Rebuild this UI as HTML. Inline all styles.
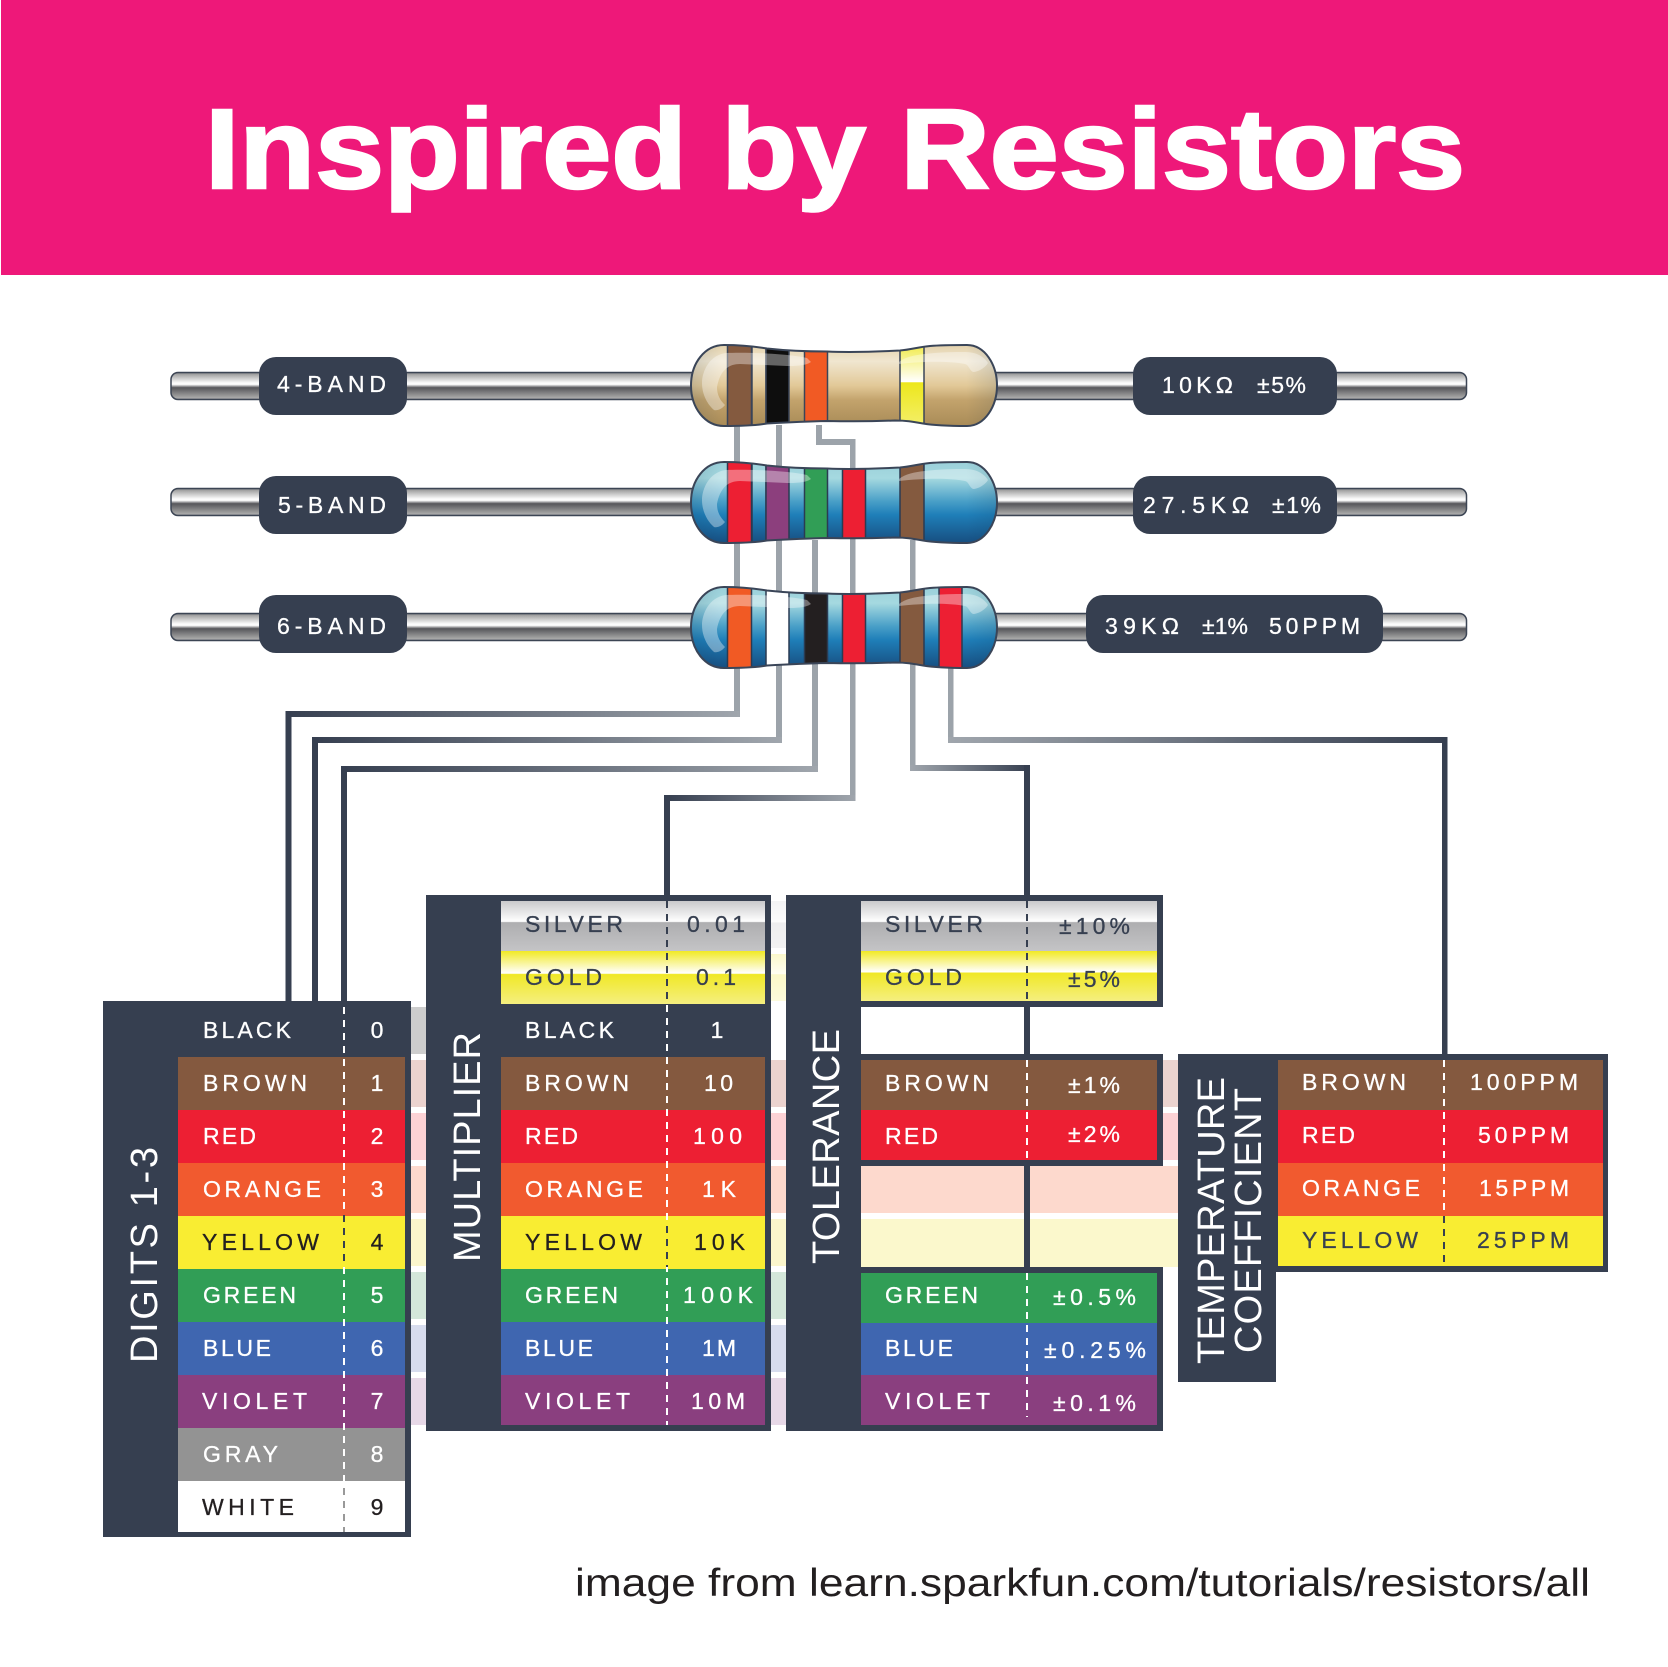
<!DOCTYPE html>
<html><head><meta charset="utf-8"><title>Inspired by Resistors</title>
<style>
html,body{margin:0;padding:0;background:#fff}
svg{display:block}
text{font-family:"Liberation Sans",sans-serif;font-size:23px;fill:#fff;stroke:#fff;stroke-width:.3px}
.k{fill:#231f20;stroke:#231f20}.d{fill:#363f50;stroke:#363f50}
.b{font-size:38px;stroke-width:0}
.m{text-anchor:middle}
</style></head><body>
<svg xmlns="http://www.w3.org/2000/svg" width="1668" height="1667" viewBox="0 0 1668 1667">
<defs>
<linearGradient id="lead" x1="0" y1="0" x2="0" y2="1"><stop offset="0" stop-color="#7d7f84"/><stop offset=".08" stop-color="#a6a6a6"/><stop offset=".38" stop-color="#fafafa"/><stop offset=".44" stop-color="#fff"/><stop offset=".56" stop-color="#56565a"/><stop offset=".95" stop-color="#ababab"/><stop offset="1" stop-color="#6d7078"/></linearGradient>
<linearGradient id="tan" x1="0" y1="0" x2="0" y2="1"><stop offset="0" stop-color="#e4d2ac"/><stop offset=".2" stop-color="#f0e6d0"/><stop offset=".5" stop-color="#e2c998"/><stop offset=".68" stop-color="#c3a36c"/><stop offset="1" stop-color="#a98b57"/></linearGradient>
<linearGradient id="blu" x1="0" y1="0" x2="0" y2="1"><stop offset="0" stop-color="#9bd0da"/><stop offset=".2" stop-color="#a5d9e0"/><stop offset=".48" stop-color="#4aa0c8"/><stop offset=".65" stop-color="#1f7fb9"/><stop offset="1" stop-color="#174e80"/></linearGradient>
<linearGradient id="side" x1="0" y1="0" x2="1" y2="0"><stop offset="0" stop-color="#0b2a4a" stop-opacity=".15"/><stop offset=".1" stop-color="#0b2a4a" stop-opacity="0"/><stop offset=".9" stop-color="#0b2a4a" stop-opacity="0"/><stop offset="1" stop-color="#0b2a4a" stop-opacity=".13"/></linearGradient>
<linearGradient id="yb" x1="0" y1="0" x2="0" y2="1"><stop offset="0" stop-color="#efe830"/><stop offset=".44" stop-color="#fff"/><stop offset=".45" stop-color="#ede71c"/><stop offset="1" stop-color="#f5f07a"/></linearGradient>
<linearGradient id="silver" x1="0" y1="0" x2="0" y2="1"><stop offset="0" stop-color="#c9c9cb"/><stop offset=".41" stop-color="#fff"/><stop offset=".43" stop-color="#aeaeb0"/><stop offset="1" stop-color="#c4c4c6"/></linearGradient>
<linearGradient id="gold" x1="0" y1="0" x2="0" y2="1"><stop offset="0" stop-color="#f1e924"/><stop offset=".42" stop-color="#fff"/><stop offset=".44" stop-color="#f0e826"/><stop offset="1" stop-color="#f5ef80"/></linearGradient>
<linearGradient id="lsilver" x1="0" y1="0" x2="0" y2="1"><stop offset="0" stop-color="#f3f3f4"/><stop offset=".45" stop-color="#fcfcfc"/><stop offset=".46" stop-color="#eeeeef"/><stop offset="1" stop-color="#f2f2f3"/></linearGradient>
<linearGradient id="lgold" x1="0" y1="0" x2="0" y2="1"><stop offset="0" stop-color="#fbf8cb"/><stop offset=".42" stop-color="#fffef2"/><stop offset=".44" stop-color="#fbf8c8"/><stop offset="1" stop-color="#fdfbdc"/></linearGradient>
<linearGradient id="dl" x1="0" y1="0" x2="1" y2="0"><stop offset="0" stop-color="#363f50"/><stop offset="1" stop-color="#a0a6ad"/></linearGradient>
<linearGradient id="ld" x1="0" y1="0" x2="1" y2="0"><stop offset="0" stop-color="#a0a6ad"/><stop offset="1" stop-color="#363f50"/></linearGradient>
<path id="body" d="M691,385.500 C691,363 705,345 724,345 C742,345 755,346.500 767,348.500 C785,350.500 805,351.500 827,351.500 C850,352.500 880,351.500 900,350.500 C912,349.500 918,347 930,346 C942,345 955,345 967,345 C985,345 997,365 997,385.500 C997,406 985,426 967,426 C950,426 935,425.500 923,423.500 C912,421.500 906,420.500 895,420.500 C870,421.500 850,421.500 827,421 C805,421.500 785,422.500 767,423.500 C755,425.500 742,426 724,426 C705,426 691,408 691,385.500 Z"/>
<clipPath id="c"><use href="#body"/></clipPath>
<path id="hl" d="M702,383 C702,372 709,355 726,353 C750,352 790,354 807,358 L811,362 C805,366 795,366 787,366 L740,364 C728,364 720,371 717,387 C717,395 720,400 725,405 C722,409 717,411 714,410 C708,405 702,395 702,383 Z M899,362 C905,357 915,355 925,354 C940,352 955,352 965,352 C978,352 985,358 988,363 C985,368 978,372 973,372 C969,370 969,365 965,364 C950,361 925,361 899,364 Z" fill="#fff" opacity=".36"/>
</defs>

<rect width="1668" height="1667" fill="#fff"/>
<rect x="1" y="0" width="1667" height="275" fill="#ee1879"/>
<text x="205" y="188" style="font-size:113px;font-weight:bold;stroke:#fff;stroke-width:2.5px" textLength="1260" lengthAdjust="spacingAndGlyphs">Inspired by Resistors</text>

<!-- light bands -->
<g>
<rect x="411" y="1007" width="15" height="47" fill="#cdcdcd"/>
<rect x="411" y="1060" width="15" height="47" fill="#ebd3cf"/>
<rect x="411" y="1113" width="15" height="47" fill="#fcd2d5"/>
<rect x="411" y="1166" width="15" height="47" fill="#fdd9cd"/>
<rect x="411" y="1219" width="15" height="47" fill="#fbf6cc"/>
<rect x="411" y="1272" width="15" height="47" fill="#d4e7da"/>
<rect x="411" y="1325" width="15" height="47" fill="#d7dcee"/>
<rect x="411" y="1378" width="15" height="47" fill="#e7d8e7"/>
<rect x="771" y="901" width="15" height="47" fill="url(#lsilver)"/>
<rect x="771" y="954" width="15" height="47" fill="url(#lgold)"/>
<rect x="771" y="1060" width="15" height="47" fill="#ebd3cf"/>
<rect x="771" y="1113" width="15" height="47" fill="#fcd2d5"/>
<rect x="771" y="1166" width="15" height="47" fill="#fdd9cd"/>
<rect x="771" y="1219" width="15" height="47" fill="#fbf6cc"/>
<rect x="771" y="1272" width="15" height="47" fill="#d4e7da"/>
<rect x="771" y="1325" width="15" height="47" fill="#d7dcee"/>
<rect x="771" y="1378" width="15" height="47" fill="#e7d8e7"/>
<rect x="1163" y="1060" width="16" height="47" fill="#ebd3cf"/>
<rect x="1163" y="1113" width="16" height="47" fill="#fcd2d5"/>
<rect x="861" y="1166" width="318" height="47" fill="#fdd9cd"/>
<rect x="861" y="1219" width="318" height="48" fill="#fbf8cc"/>
</g>

<!-- wires -->
<g fill="#9ca3aa">
<rect x="734" y="425" width="6" height="292"/>
<rect x="776" y="425" width="6" height="318"/>
<rect x="816" y="425" width="6" height="20"/>
<rect x="816" y="439" width="39" height="6"/>
<rect x="812" y="540" width="6" height="232"/>
<rect x="850" y="439" width="5.500" height="362"/>
<rect x="910" y="540" width="5.500" height="231"/>
<rect x="948" y="665" width="5.500" height="78"/>
</g>
<rect x="285.500" y="711" width="454" height="6" fill="url(#dl)"/>
<rect x="312" y="737" width="470" height="6" fill="url(#dl)"/>
<rect x="341" y="766" width="477" height="6" fill="url(#dl)"/>
<rect x="664" y="795" width="191.500" height="6" fill="url(#dl)"/>
<rect x="910" y="765" width="120" height="6" fill="url(#ld)"/>
<rect x="948" y="737" width="499" height="6" fill="url(#ld)"/>
<g fill="#363f50">
<rect x="285.500" y="711" width="6" height="295"/>
<rect x="312" y="737" width="6" height="269"/>
<rect x="341" y="766" width="6" height="240"/>
<rect x="664" y="795" width="6" height="105"/>
<rect x="1024" y="765" width="6" height="505"/>
<rect x="1442" y="737" width="5.500" height="320"/>
</g>

<!-- leads -->
<g stroke="#3c4554" stroke-width="1.500" fill="url(#lead)">
<rect x="171" y="372.500" width="1295.500" height="27" rx="7"/>
<rect x="171" y="488.500" width="1295.500" height="27" rx="7"/>
<rect x="171" y="613.500" width="1295.500" height="27" rx="7"/>
</g>

<!-- pills -->
<g fill="#363f50">
<rect x="259" y="357" width="148" height="58" rx="17"/>
<rect x="259" y="476" width="148" height="58" rx="17"/>
<rect x="259" y="595" width="148" height="58" rx="17"/>
<rect x="1133" y="357" width="204" height="58" rx="17"/>
<rect x="1133" y="476" width="204" height="58" rx="17"/>
<rect x="1086" y="595" width="297" height="58" rx="17"/>
</g>
<text x="277" y="392" textLength="109">4-BAND</text>
<text x="278" y="513" textLength="108">5-BAND</text>
<text x="277" y="634" textLength="109">6-BAND</text>
<text x="1162" y="393" textLength="71">10KΩ</text>
<text x="1257" y="393" textLength="49">±5%</text>
<text x="1143" y="513" textLength="106">27.5KΩ</text>
<text x="1272" y="513" textLength="49">±1%</text>
<text x="1105" y="634" textLength="74">39KΩ</text>
<text x="1202" y="634" textLength="46">±1%</text>
<text x="1269" y="634" textLength="91">50PPM</text>

<!-- resistor 1 -->
<g>
<use href="#body" fill="url(#tan)"/>
<g clip-path="url(#c)" stroke="#3a4558" stroke-width="1.500">
<rect x="727.500" y="340" width="24" height="95" fill="#845a3f"/>
<rect x="752" y="340" width="14" height="95" fill="none"/>
<rect x="766" y="340" width="23" height="95" fill="#0e0e0e"/>
<rect x="804.500" y="340" width="23" height="95" fill="#f15a24"/>
<rect x="900" y="340" width="24" height="95" fill="url(#yb)"/>
<use href="#body" fill="url(#side)" stroke="none"/>
</g>
<use href="#hl"/>
<use href="#body" fill="none" stroke="#3a4558" stroke-width="2"/>
</g>
<!-- resistor 2 -->
<g transform="translate(0,117)">
<use href="#body" fill="url(#blu)"/>
<g clip-path="url(#c)" stroke="#2b3b52" stroke-width="1.500">
<rect x="727.500" y="340" width="24" height="95" fill="#ed1f33"/>
<rect x="752" y="340" width="14" height="95" fill="none"/>
<rect x="766" y="340" width="23" height="95" fill="#8c3f7d"/>
<rect x="804.500" y="340" width="23" height="95" fill="#319e56"/>
<rect x="842.500" y="340" width="23" height="95" fill="#ed1f33"/>
<rect x="900" y="340" width="24" height="95" fill="#845a3f"/>
<use href="#body" fill="url(#side)" stroke="none"/>
</g>
<use href="#hl"/>
<use href="#body" fill="none" stroke="#3a4558" stroke-width="2"/>
</g>
<!-- resistor 3 -->
<g transform="translate(0,242)">
<use href="#body" fill="url(#blu)"/>
<g clip-path="url(#c)" stroke="#2b3b52" stroke-width="1.500">
<rect x="727.500" y="340" width="24" height="95" fill="#f15a24"/>
<rect x="766" y="340" width="23" height="95" fill="#fff"/>
<rect x="804.500" y="340" width="23" height="95" fill="#231f20"/>
<rect x="842.500" y="340" width="23" height="95" fill="#ed1f33"/>
<rect x="900" y="340" width="24" height="95" fill="#845a3f"/>
<rect x="939" y="340" width="23" height="95" fill="#ed1f33"/>
<use href="#body" fill="url(#side)" stroke="none"/>
</g>
<use href="#hl"/>
<use href="#body" fill="none" stroke="#3a4558" stroke-width="2"/>
</g>

<!-- DIGITS -->
<rect x="103" y="1001" width="308" height="536" fill="#363f50"/>
<rect x="178" y="1057" width="227" height="53" fill="#84593f"/>
<rect x="178" y="1110" width="227" height="53" fill="#ed1f33"/>
<rect x="178" y="1163" width="227" height="53" fill="#f15a2f"/>
<rect x="178" y="1216" width="227" height="53" fill="#f9ed32"/>
<rect x="178" y="1269" width="227" height="53" fill="#319e56"/>
<rect x="178" y="1322" width="227" height="53" fill="#3f66b0"/>
<rect x="178" y="1375" width="227" height="53" fill="#8a3f7f"/>
<rect x="178" y="1428" width="227" height="53" fill="#939393"/>
<rect x="178" y="1481" width="227" height="51" fill="#fff"/>
<line x1="344" y1="1007" x2="344" y2="1532" stroke="#fff" stroke-width="2" stroke-dasharray="7 6"/>
<line x1="344" y1="1215" x2="344" y2="1267" stroke="#363f50" stroke-width="2" stroke-dasharray="7 6"/>
<line x1="344" y1="1488" x2="344" y2="1532" stroke="#999" stroke-width="2" stroke-dasharray="7 6"/>
<text class="b" transform="translate(157,1363) rotate(-90)" textLength="216">DIGITS 1-3</text>
<text x="203" y="1038" textLength="88">BLACK</text>
<text x="203" y="1091" textLength="104">BROWN</text>
<text x="203" y="1144" textLength="53">RED</text>
<text x="203" y="1197" textLength="118">ORANGE</text>
<text class="k" x="202" y="1250" textLength="117">YELLOW</text>
<text x="203" y="1303" textLength="93">GREEN</text>
<text x="203" y="1356" textLength="68">BLUE</text>
<text x="202" y="1409" textLength="105">VIOLET</text>
<text x="203" y="1462" textLength="75">GRAY</text>
<text class="k" x="202" y="1515" textLength="92">WHITE</text>
<text class="m" x="377" y="1038">0</text>
<text class="m" x="377" y="1091">1</text>
<text class="m" x="377" y="1144">2</text>
<text class="m" x="377" y="1197">3</text>
<text class="m k" x="377" y="1250">4</text>
<text class="m" x="377" y="1303">5</text>
<text class="m" x="377" y="1356">6</text>
<text class="m" x="377" y="1409">7</text>
<text class="m" x="377" y="1462">8</text>
<text class="m k" x="377" y="1515">9</text>

<!-- MULTIPLIER -->
<rect x="426" y="895" width="345" height="536" fill="#363f50"/>
<rect x="501" y="901" width="264" height="50" fill="url(#silver)"/>
<rect x="501" y="951" width="264" height="53" fill="url(#gold)"/>
<rect x="501" y="1057" width="264" height="53" fill="#84593f"/>
<rect x="501" y="1110" width="264" height="53" fill="#ed1f33"/>
<rect x="501" y="1163" width="264" height="53" fill="#f15a2f"/>
<rect x="501" y="1216" width="264" height="53" fill="#f9ed32"/>
<rect x="501" y="1269" width="264" height="53" fill="#319e56"/>
<rect x="501" y="1322" width="264" height="53" fill="#3f66b0"/>
<rect x="501" y="1375" width="264" height="50" fill="#8a3f7f"/>
<line x1="667" y1="1005" x2="667" y2="1425" stroke="#fff" stroke-width="2" stroke-dasharray="7 6"/>
<line x1="667" y1="901" x2="667" y2="1003" stroke="#363f50" stroke-width="2" stroke-dasharray="7 6"/>
<line x1="667" y1="1226" x2="667" y2="1267" stroke="#363f50" stroke-width="2" stroke-dasharray="7 6"/>
<text class="b" transform="translate(480,1262) rotate(-90)" textLength="230">MULTIPLIER</text>
<text class="d" x="525" y="932" textLength="98">SILVER</text>
<text class="d" x="525" y="985" textLength="77">GOLD</text>
<text x="525" y="1038" textLength="89">BLACK</text>
<text x="525" y="1091" textLength="104">BROWN</text>
<text x="525" y="1144" textLength="53">RED</text>
<text x="525" y="1197" textLength="118">ORANGE</text>
<text class="k" x="525" y="1250" textLength="117">YELLOW</text>
<text x="525" y="1303" textLength="93">GREEN</text>
<text x="525" y="1356" textLength="68">BLUE</text>
<text x="525" y="1409" textLength="105">VIOLET</text>
<text class="d" x="687" y="932" textLength="58">0.01</text>
<text class="d" x="696" y="985" textLength="40">0.1</text>
<text class="m" x="717" y="1038">1</text>
<text x="704" y="1091" textLength="29">10</text>
<text x="693" y="1144" textLength="49">100</text>
<text x="702" y="1197" textLength="34">1K</text>
<text class="k" x="694" y="1250" textLength="51">10K</text>
<text x="683" y="1303" textLength="70">100K</text>
<text x="702" y="1356" textLength="34">1M</text>
<text x="691" y="1409" textLength="54">10M</text>

<!-- TOLERANCE -->
<rect x="786" y="895" width="75" height="536" fill="#363f50"/>
<rect x="861" y="895" width="302" height="112" fill="#363f50"/>
<rect x="861" y="1054" width="302" height="112" fill="#363f50"/>
<rect x="861" y="1267" width="302" height="164" fill="#363f50"/>
<rect x="861" y="901" width="296" height="50" fill="url(#silver)"/>
<rect x="861" y="951" width="296" height="50" fill="url(#gold)"/>
<rect x="861" y="1060" width="296" height="50" fill="#84593f"/>
<rect x="861" y="1110" width="296" height="50" fill="#ed1f33"/>
<rect x="861" y="1273" width="296" height="50" fill="#319e56"/>
<rect x="861" y="1323" width="296" height="52" fill="#3f66b0"/>
<rect x="861" y="1375" width="296" height="50" fill="#8a3f7f"/>
<line x1="1027" y1="901" x2="1027" y2="1001" stroke="#363f50" stroke-width="2" stroke-dasharray="7 6"/>
<line x1="1027" y1="1060" x2="1027" y2="1160" stroke="#fff" stroke-width="2" stroke-dasharray="7 6"/>
<line x1="1027" y1="1273" x2="1027" y2="1417" stroke="#fff" stroke-width="2" stroke-dasharray="7 6"/>
<text class="b" transform="translate(839,1264) rotate(-90)" textLength="235">TOLERANCE</text>
<text class="d" x="885" y="932" textLength="98">SILVER</text>
<text class="d" x="885" y="985" textLength="77">GOLD</text>
<text x="885" y="1091" textLength="104">BROWN</text>
<text x="885" y="1144" textLength="53">RED</text>
<text x="885" y="1303" textLength="93">GREEN</text>
<text x="885" y="1356" textLength="68">BLUE</text>
<text x="885" y="1409" textLength="105">VIOLET</text>
<text class="d" x="1059" y="934" textLength="71">±10%</text>
<text class="d" x="1068" y="987" textLength="52">±5%</text>
<text x="1068" y="1093" textLength="52">±1%</text>
<text x="1068" y="1142" textLength="52">±2%</text>
<text x="1053" y="1305" textLength="83">±0.5%</text>
<text x="1044" y="1358" textLength="102">±0.25%</text>
<text x="1053" y="1411" textLength="83">±0.1%</text>

<!-- TEMP COEFFICIENT -->
<rect x="1178" y="1054" width="98" height="328" fill="#363f50"/>
<rect x="1276" y="1054" width="332" height="218" fill="#363f50"/>
<rect x="1278" y="1060" width="325" height="50" fill="#84593f"/>
<rect x="1278" y="1110" width="325" height="53" fill="#ed1f33"/>
<rect x="1278" y="1163" width="325" height="53" fill="#f15a2f"/>
<rect x="1278" y="1216" width="325" height="50" fill="#f9ed32"/>
<line x1="1444" y1="1060" x2="1444" y2="1216" stroke="#fff" stroke-width="2" stroke-dasharray="7 6"/>
<line x1="1444" y1="1216" x2="1444" y2="1266" stroke="#363f50" stroke-width="2" stroke-dasharray="7 6"/>
<text class="b" transform="translate(1224,1364) rotate(-90)" textLength="287">TEMPERATURE</text>
<text class="b" transform="translate(1261,1353) rotate(-90)" textLength="265">COEFFICIENT</text>
<text x="1302" y="1090" textLength="104">BROWN</text>
<text x="1302" y="1143" textLength="53">RED</text>
<text x="1302" y="1196" textLength="118">ORANGE</text>
<text class="d" x="1302" y="1248" textLength="116">YELLOW</text>
<text x="1470" y="1090" textLength="108">100PPM</text>
<text x="1478" y="1143" textLength="91">50PPM</text>
<text x="1479" y="1196" textLength="90">15PPM</text>
<text class="d" x="1477" y="1248" textLength="92">25PPM</text>

<text x="575" y="1596" style="font-size:39px;fill:#231f20;stroke-width:0" textLength="1015" lengthAdjust="spacingAndGlyphs">image from learn.sparkfun.com/tutorials/resistors/all</text>
</svg>
</body></html>
